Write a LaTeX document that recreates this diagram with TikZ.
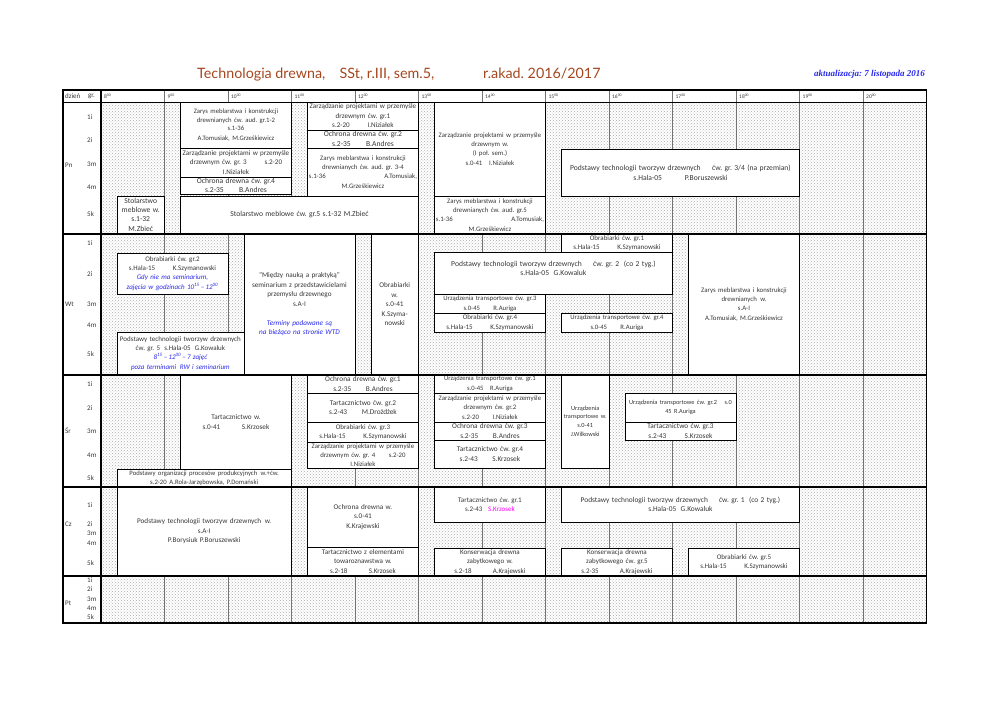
\documentclass[tikz,border=0pt]{standalone}
\usepackage{fontspec}
\setmainfont{Carlito}
\newfontfamily\titlefont{Lato}
\newfontfamily\updfont{Liberation Serif}
\usetikzlibrary{patterns}
\definecolor{txt}{RGB}{55,55,55}
\definecolor{titlec}{RGB}{165,70,30}
\definecolor{bluet}{RGB}{40,40,235}
\definecolor{magt}{RGB}{255,0,255}
\frenchspacing
\newcommand\fs[1]{\fontsize{#1}{\fpeval{#1*1.32}}\selectfont}
\newcommand\bl[1]{{\color{bluet}\itshape #1}}
\newcommand\ev[7][]{%
  \draw[evbox] (#3,#4) rectangle (#5,#6);
  \pgfmathsetmacro\evw{#5-#3-3}
  \node[evtext, text width=\evw pt, #1] (#2) at ({(#3+#5)/2},{(#4+#6)/2}) {#7};
}
\begin{document}
\begin{tikzpicture}[x=1pt,y=-1pt,
  evbox/.style={draw=black, line width=0.8pt, fill=white},
  evtext/.style={align=center, inner sep=0pt, text=txt, font=\frenchspacing\fs{7.2}},
  lbl/.style={anchor=west, inner sep=0pt, text=txt, font=\fs{7}},
  hourline/.style={draw=black!55, line width=0.7pt},
  sepline/.style={draw=black, line width=1.3pt}]
\useasboundingbox (0,0) rectangle (992,701);

% title
\node[anchor=base west, inner sep=0pt, text=titlec, font=\titlefont\fontsize{14.3}{16}\selectfont] (title) at (197,78) {Technologia drewna,\hspace{1em}SSt, r.III, sem.5,};
\node[anchor=base west, inner sep=0pt, text=titlec, font=\titlefont\fontsize{14.3}{16}\selectfont] (year) at (483,78) {r.akad. 2016/2017};
\node[anchor=base east, inner sep=0pt, text=bluet, font=\updfont\bfseries\itshape\fontsize{9}{10}\selectfont] (upd) at (925,77) {aktualizacja: 7 listopada 2016};

% background
\fill[pattern=crosshatch dots, pattern color=black!32] (101,102) rectangle (926.5,623);
\foreach \h in {164.5,228,291.5,355,418.5,482,545.5,609,672.5,736,799.5,863}
  \draw[hourline] (\h,90) -- (\h,623);

% header
\node[lbl] (hdzien) at (65,96) {dzień};
\node[lbl] (hgr) at (88,96) {gr.};
\foreach \h/\t in {101/8,164.5/9,228/10,291.5/11,355/12,418.5/13,482/14,545.5/15,609/16,672.5/17,736/18,799.5/19,863/20}
  \node[lbl, font=\fs{5.5}] (h\t) at ({\h+3},96) {\t\textsuperscript{00}};

% Pn
\ev{pn1}{180.4}{102}{291.5}{148}{\fs{6.7}Zarys meblarstwa i konstrukcji\\drewnianych ćw. aud. gr.1-2\\s.1-36\\A.Tomusiak, M.Grześkiewicz}
\ev{pn2}{180.4}{148}{291.5}{177}{\fs{7.1}Zarządzanie projektami w przemyśle\\drzewnym ćw. gr. 3\hspace{2.5em}s.2-20\\I.Niziałek}
\ev{pn3}{180.4}{177}{291.5}{194}{\fs{7.6}Ochrona drewna ćw. gr.4\\s.2-35\hspace{2em}B.Andres}
\ev{pn4}{116.9}{196}{164.5}{234}{\fontsize{7.6}{9}\selectfont Stolarstwo\\meblowe w.\\s.1-32\\M.Zbieć}
\ev{pn5}{180.4}{196}{418.5}{234}{\fs{7.6}Stolarstwo meblowe ćw. gr.5 s.1-32 M.Zbieć}
\ev{pn6}{307.4}{102}{418.5}{130}{\fs{7.1}Zarządzanie projektami w przemyśle\\drzewnym ćw. gr.1\\s.2-20\hspace{2.5em}I.Niziałek}
\ev{pn7}{307.4}{130}{418.5}{148}{\fs{7.6}Ochrona drewna ćw. gr.2\\s.2-35\hspace{2em}B.Andres}
\ev{pn8}{307.4}{148}{418.5}{196}{\fs{6.8}Zarys meblarstwa i konstrukcji\\drewnianych ćw. aud. gr. 3-4\\s.1-36\hfill A.Tomusiak,\\M.Grześkiewicz}
\ev{pn9}{434.4}{102}{545.5}{196}{\fs{6.8}Zarządzanie projektami w przemyśle\\drzewnym w.\\(I poł. sem.)\\s.0-41\hspace{1em}I.Niziałek}
\ev{pn10}{434.4}{196}{545.5}{234}{\fs{6.8}Zarys meblarstwa i konstrukcji\\drewnianych ćw. aud. gr.5\\s.1-36\hfill A.Tomusiak,\\M.Grześkiewicz}
\ev{pn11}{561.4}{149}{799.5}{196}{\fs{7.6}Podstawy technologii tworzyw drzewnych\hspace{1.5em}ćw. gr. 3/4 (na przemian)\\s.Hala-05\hspace{3em}P.Boruszewski}

% Wt
\ev{wt1}{116.9}{253}{228}{294}{\fs{7}Obrabiarki ćw. gr.2\\s.Hala-15\hspace{2.5em}K.Szymanowski\\\bl{Gdy nie ma seminarium,}\\\bl{zajęcia w godzinach 10\textsuperscript{15}\,–\,12\textsuperscript{00}}}
\ev{wt2}{116.9}{332}{243.9}{375}{\fs{7}Podstawy technologii tworzyw drzewnych\\ćw. gr. 5\hspace{0.6em}s.Hala-05\hspace{0.6em}G.Kowaluk\\\bl{8\textsuperscript{15}\,–\,12\textsuperscript{00}\,–\,7 zajęć}\\\bl{poza terminami\hspace{0.5em}RW i seminarium}}
\ev{wt3}{243.9}{234}{355}{375}{\fs{7.2}"Między nauką a praktyką"\\seminarium z przedstawicielami\\przemysłu drzewnego\\s.A-I\\\mbox{}\\\bl{Terminy podawane są}\\\bl{na bieżąco na stronie WTD}}
\ev{wt4}{370.9}{234}{418.5}{375}{\fs{7.2}Obrabiarki\\w.\\s.0-41\\K.Szyma-\\nowski}
\ev{wt5}{561.4}{234}{672.5}{252}{\fs{7}Obrabiarki ćw. gr.1\\s.Hala-15\hspace{2.5em}K.Szymanowski}
\ev[yshift=5pt]{wt6}{434.4}{252}{672.5}{294}{\fs{7.6}Podstawy technologii tworzyw drzewnych\hspace{1.5em}ćw. gr. 2\hspace{0.6em}(co 2 tyg.)\\s.Hala-05\hspace{0.6em}G.Kowaluk}
\ev{wt7}{434.4}{294}{545.5}{313}{\fs{6.7}Urządzenia transportowe ćw. gr.3\\s.0-45\hspace{2em}R.Auriga}
\ev{wt8}{434.4}{313}{545.5}{332}{\fs{7}Obrabiarki ćw. gr.4\\s.Hala-15\hspace{2.5em}K.Szymanowski}
\ev{wt9}{561.4}{313}{672.5}{332}{\fs{6.7}Urządzenia transportowe ćw. gr.4\\s.0-45\hspace{2em}R.Auriga}
\ev{wt10}{688.4}{234}{799.5}{375}{\fs{6.8}Zarys meblarstwa i konstrukcji\\drewnianych\hspace{0.5em}w.\\s.A-I\\A.Tomusiak, M.Grześkiewicz}

% Sr
\ev{sr1}{180.4}{375}{291.5}{469}{\fs{7.2}Tartacznictwo w.\\s.0-41\hspace{3em}S.Krzosek}
\ev{sr2}{116.9}{469}{291.5}{487}{\fs{6.7}Podstawy organizacji procesów produkcyjnych\hspace{0.5em}w.+ćw.\\s.2-20\hspace{0.4em}A.Rola-Jarzębowska, P.Domański}
\ev{sr3}{307.4}{375}{418.5}{393}{\fs{7.3}Ochrona drewna ćw. gr.1\\s.2-35\hspace{2em}B.Andres}
\ev{sr4}{307.4}{393}{418.5}{422}{\fs{7.3}Tartacznictwo ćw. gr.2\\s.2-43\hspace{2em}M.Drożdżek}
\ev{sr5}{307.4}{422}{418.5}{442}{\fs{7}Obrabiarki ćw. gr.3\\s.Hala-15\hspace{2.5em}K.Szymanowski}
\ev{sr6}{307.4}{442}{418.5}{468}{\fs{6.8}Zarządzanie projektami w przemyśle\\drzewnym ćw. gr. 4\hspace{2em}s.2-20\\I.Niziałek}
\ev{sr7}{434.4}{375}{545.5}{393}{\fs{6.6}Urządzenia transportowe ćw. gr.1\\s.0-45\hspace{1em}R.Auriga}
\ev{sr8}{434.4}{393}{545.5}{422}{\fs{6.8}Zarządzanie projektami w przemyśle\\drzewnym ćw. gr.2\\s.2-20\hspace{2em}I.Niziałek}
\ev{sr9}{434.4}{422}{545.5}{440}{\fs{7.3}Ochrona drewna ćw. gr.3\\s.2-35\hspace{2em}B.Andres}
\ev{sr10}{434.4}{440}{545.5}{468}{\fs{7.3}Tartacznictwo ćw. gr.4\\s.2-43\hspace{2em}S.Krzosek}
\ev{sr11}{561.4}{375}{609}{468}{\fs{6.3}Urządzenia\\transportowe w.\\s.0-41\\J.Wilkowski}
\ev{sr12}{624.9}{393}{736}{422}{\fs{6.3}Urządzenia transportowe ćw. gr.2\hspace{1.2em}s.0\\45 R.Auriga}
\ev{sr13}{624.9}{422}{736}{440}{\fs{7.3}Tartacznictwo ćw. gr.3\\s.2-43\hspace{2.5em}S.Krzosek}

% Cz
\ev{cz1}{116.9}{487}{291.5}{576}{\fs{7.2}Podstawy technologii tworzyw drzewnych\hspace{0.5em}w.\\s.A-I\\P.Borysiuk P.Boruszewski}
\ev{cz2}{307.4}{487}{418.5}{547}{\fs{7.2}Ochrona drewna w.\\s.0-41\\K.Krajewski}
\ev{cz3}{307.4}{547}{418.5}{576}{\fs{7.1}Tartacznictwo z elementami\\towaroznawstwa w.\\s.2-18\hspace{3em}S.Krzosek}
\ev{cz4}{434.4}{487}{545.5}{522}{\fs{7}Tartacznictwo ćw. gr.1\\s.2-43\hspace{0.8em}\textcolor{magt}{S.Krzosek}}
\ev{cz5}{561.4}{487}{799.5}{522}{\fs{7.4}Podstawy technologii tworzyw drzewnych\hspace{1.5em}ćw. gr. 1\hspace{0.6em}(co 2 tyg.)\\s.Hala-05\hspace{0.6em}G.Kowaluk}
\ev{cz6}{434.4}{548}{545.5}{576}{\fs{7}Konserwacja drewna\\zabytkowego w.\\s.2-18\hspace{3em}A.Krajewski}
\ev{cz7}{561.4}{548}{672.5}{576}{\fs{7}Konserwacja drewna\\zabytkowego ćw. gr.5\\s.2-35\hspace{3em}A.Krajewski}
\ev{cz8}{688.4}{548}{799.5}{576}{\fs{7}Obrabiarki ćw. gr.5\\s.Hala-15\hspace{2.5em}K.Szymanowski}

% frame
\draw[sepline] (63,90) rectangle (926.5,623);
\draw[draw=black, line width=1pt] (63,102) -- (926.5,102);
\foreach \y in {234,375,487,576} \draw[sepline] (63,\y) -- (926.5,\y);
\draw[draw=black, line width=1.1pt] (101,90) -- (101,623);

% day labels
\node[lbl] (dpn) at (65,165) {Pn};
\node[lbl] (dwt) at (65,304) {Wt};
\node[lbl] (dsr) at (65,431) {Śr};
\node[lbl] (dcz) at (65,524) {Cz};
\node[lbl] (dpt) at (65,603) {Pt};
% group labels
\foreach \y/\g [count=\i] in {117/1i,140/2i,164/3m,187/4m,214/5k,
  243/1i,274/2i,304/3m,325/4m,354/5k,
  384/1i,408/2i,431/3m,455/4m,478/5k,
  505/1i,524/2i,533/3m,543/4m,563/5k,
  580/1i,589/2i,599/3m,608/4m,617/5k}
  \node[lbl] (g\i) at (87,\y) {\g};
\end{tikzpicture}
\end{document}
